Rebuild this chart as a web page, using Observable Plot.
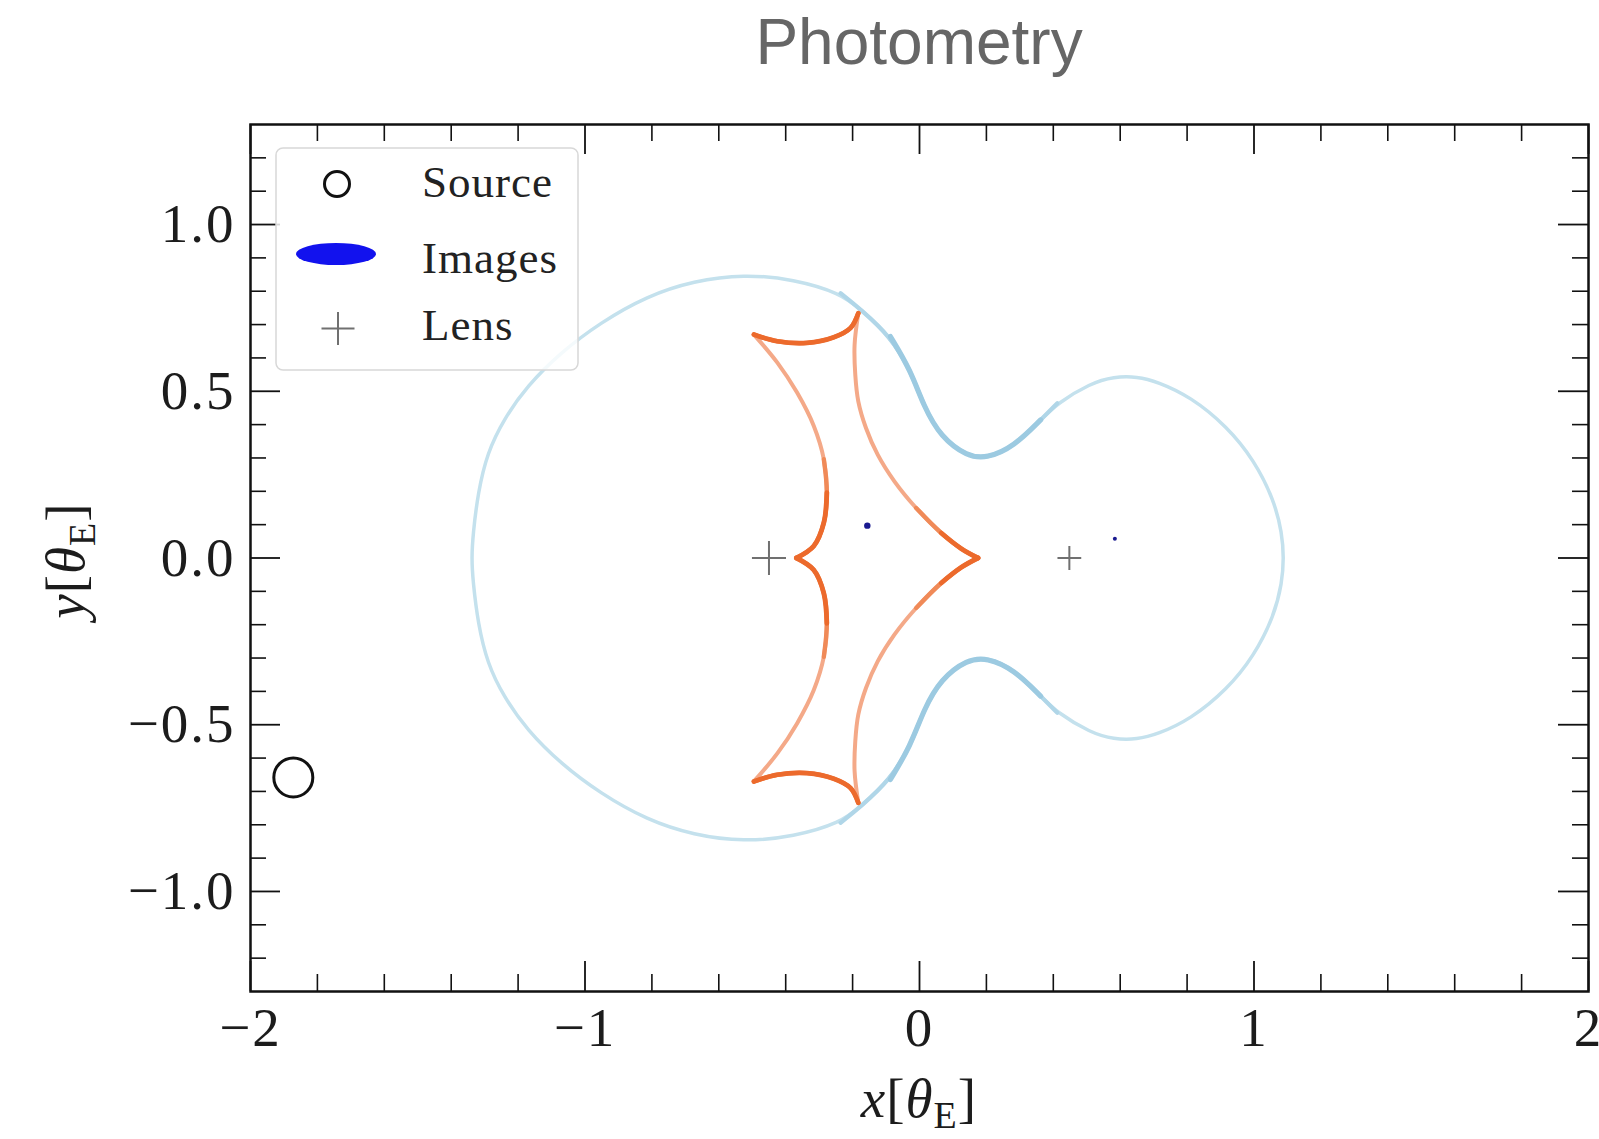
<!DOCTYPE html>
<html>
<head>
<meta charset="utf-8">
<script src="https://cdn.jsdelivr.net/npm/d3@7"></script>
<script src="https://cdn.jsdelivr.net/npm/@observablehq/plot@0.6"></script>
<style>
  body { margin: 0; background: #fff; }
  #wrap { position: relative; width: 1599px; height: 1139px; overflow: hidden; }
  #title { position: absolute; left: 250px; top: 0; width: 1338px; height: 95px; padding-top: 10px; box-sizing: border-box;
           text-align: center; font-family: "Liberation Sans", Arial, sans-serif; font-size: 64px; line-height: 64px; color: #666; }
  #chart { position: absolute; left: 0; top: 95px; }
  #legend { position: absolute; left: 275px; top: 147px; }
</style>
</head>
<body>
<div id="wrap">
  <div id="title">Photometry</div>
  <div id="chart"></div>
  <svg id="legend" width="305" height="225"></svg>
</div>
<script>
// ---------------- data ----------------
const xMajorTicks = [-2, -1, 0, 1, 2];
const xMinorTicks = [-1.8, -1.6, -1.4, -1.2, -0.8, -0.6, -0.4, -0.2, 0.2, 0.4, 0.6, 0.8, 1.2, 1.4, 1.6, 1.8];
const yMajorTicks = [-1, -0.5, 0, 0.5, 1];
const yMinorTicks = [-1.2, -1.1, -0.9, -0.8, -0.7, -0.6, -0.4, -0.3, -0.2, -0.1, 0.1, 0.2, 0.3, 0.4, 0.6, 0.7, 0.8, 0.9, 1.1, 1.2];

// critical curve (upper half left→right, lower half right→left)
const criticalUpper = [
  [-1.339, 0], [-1.335, 0.07], [-1.320, 0.196], [-1.292, 0.316], [-1.243, 0.416], [-1.173, 0.516],
  [-1.073, 0.616], [-0.954, 0.706], [-0.814, 0.786], [-0.675, 0.831], [-0.525, 0.851], [-0.376, 0.836],
  [-0.236, 0.794], [-0.176, 0.746], [-0.087, 0.664], [-0.027, 0.564], [0.013, 0.454], [0.063, 0.364],
  [0.143, 0.304], [0.202, 0.299], [0.282, 0.334], [0.362, 0.414], [0.412, 0.464], [0.511, 0.524],
  [0.581, 0.544], [0.651, 0.544], [0.711, 0.529], [0.810, 0.484], [0.920, 0.394], [1.000, 0.294],
  [1.060, 0.174], [1.084, 0.074], [1.089, 0]
];
const criticalLower = [
  [1.084, -0.074], [1.060, -0.174], [1.000, -0.294], [0.920, -0.394], [0.810, -0.484], [0.711, -0.529],
  [0.651, -0.544], [0.581, -0.544], [0.511, -0.524], [0.412, -0.464], [0.362, -0.414], [0.282, -0.334],
  [0.202, -0.299], [0.143, -0.304], [0.063, -0.364], [0.013, -0.454], [-0.027, -0.564], [-0.087, -0.664],
  [-0.176, -0.746], [-0.236, -0.794], [-0.376, -0.836], [-0.525, -0.851], [-0.675, -0.831], [-0.814, -0.786],
  [-0.954, -0.706], [-1.073, -0.616], [-1.173, -0.516], [-1.243, -0.416], [-1.292, -0.316], [-1.320, -0.196],
  [-1.335, -0.07]
];

// caustic: six fold edges between cusps
const causticTop = [[-0.495, 0.670], [-0.425, 0.650], [-0.336, 0.645], [-0.256, 0.662], [-0.206, 0.690], [-0.183, 0.734]];
const causticLeftUpper = [[-0.495, 0.670], [-0.425, 0.586], [-0.366, 0.496], [-0.316, 0.396], [-0.286, 0.296], [-0.277, 0.196], [-0.286, 0.106], [-0.316, 0.036], [-0.368, 0.0]];
const causticRightUpper = [[-0.183, 0.734], [-0.194, 0.64], [-0.192, 0.55], [-0.183, 0.47], [-0.160, 0.39], [-0.125, 0.31], [-0.075, 0.23], [-0.010, 0.15], [0.065, 0.075], [0.125, 0.028], [0.175, 0.0]];
const causticBottom = [[-0.495, -0.670], [-0.425, -0.650], [-0.336, -0.645], [-0.256, -0.662], [-0.206, -0.690], [-0.183, -0.734]];
const causticLeftLower = [[-0.495, -0.670], [-0.425, -0.586], [-0.366, -0.496], [-0.316, -0.396], [-0.286, -0.296], [-0.277, -0.196], [-0.286, -0.106], [-0.316, -0.036], [-0.368, 0.0]];
const causticRightLower = [[-0.183, -0.734], [-0.194, -0.64], [-0.192, -0.55], [-0.183, -0.47], [-0.160, -0.39], [-0.125, -0.31], [-0.075, -0.23], [-0.010, -0.15], [0.065, -0.075], [0.125, -0.028], [0.175, 0.0]];

const lensX = [-0.450, 0.448];
const lensY = [0, 0];
const sourceX = [-1.872];
const sourceY = [-0.658];
const imageX = [-0.156, 0.584];
const imageY = [0.097, 0.058];

// ---------------- tables ----------------
const criticalRows = [
  ...criticalUpper.map(([x, y]) => ({x, y, side: "upper"})),
  ...criticalLower.map(([x, y]) => ({x, y, side: "lower"}))
];
const causticSegments = {
  top: causticTop, leftUpper: causticLeftUpper, rightUpper: causticRightUpper,
  bottom: causticBottom, leftLower: causticLeftLower, rightLower: causticRightLower
};
const causticRows = Object.entries(causticSegments).flatMap(([seg, pts]) => pts.map(([x, y]) => ({x, y, seg})));
const lensRows = lensX.map((x, i) => ({x, y: lensY[i]}));
const sourceRows = sourceX.map((x, i) => ({x, y: sourceY[i]}));
const imageRows = imageX.map((x, i) => ({x, y: imageY[i]}));

// ---------------- layout ----------------
const W = 1599, H = 1044, mT = 29, mB = 148, mL = 250, mR = 11;
const FW = W - mL - mR, FH = H - mT - mB;

const isLeft = d => d.seg === "leftUpper" || d.seg === "leftLower";
const isRight = d => d.seg === "rightUpper" || d.seg === "rightLower";
const midCaustic = d => d.seg === "top" || d.seg === "bottom" || (isLeft(d) && Math.abs(d.y) < 0.32) || (isRight(d) && Math.abs(d.y) < 0.16);
const darkCaustic = d => d.seg === "top" || d.seg === "bottom" || (isLeft(d) && Math.abs(d.y) < 0.2) || (isRight(d) && Math.abs(d.y) < 0.08);

const serif = "'Liberation Serif', 'Times New Roman', serif";

const chart = Plot.plot({
  width: W, height: H,
  marginTop: mT, marginBottom: mB, marginLeft: mL, marginRight: mR,
  x: {domain: [-2, 2]},
  y: {domain: [-1.3, 1.3]},
  style: {fontFamily: serif, fontSize: "55px", color: "#1c1c1c", background: "transparent", overflow: "visible", letterSpacing: "2px"},
  marks: [
    // critical curve
    Plot.line(criticalRows, {x: "x", y: "y", curve: "basis-closed", stroke: "#c4e1ed", strokeWidth: 3.5}),
    Plot.line(criticalRows, {x: "x", y: "y", z: "side", filter: d => d.x > -0.25 && d.x < 0.47, curve: "basis", stroke: "#b0d6e8", strokeWidth: 4.2, strokeLinecap: "round"}),
    Plot.line(criticalRows, {x: "x", y: "y", z: "side", filter: d => d.x > -0.12 && d.x < 0.39, curve: "basis", stroke: "#9ccae1", strokeWidth: 5.2, strokeLinecap: "round"}),
    // caustic
    Plot.line(causticRows, {x: "x", y: "y", z: "seg", curve: "catmull-rom", stroke: "#f4a988", strokeWidth: 4}),
    Plot.line(causticRows, {x: "x", y: "y", z: "seg", filter: midCaustic, curve: "catmull-rom", stroke: "#f08a58", strokeWidth: 4.4, strokeLinecap: "round"}),
    Plot.line(causticRows, {x: "x", y: "y", z: "seg", filter: darkCaustic, curve: "catmull-rom", stroke: "#ec6a2c", strokeWidth: 4.8, strokeLinecap: "round"}),
    // lenses
    Plot.dot(lensRows, {x: "x", y: "y", filter: (d, i) => i === 0, symbol: "plus", r: 11, stroke: "#707070", strokeWidth: 2, fill: "none"}),
    Plot.dot(lensRows, {x: "x", y: "y", filter: (d, i) => i === 1, symbol: "plus", r: 7.7, stroke: "#707070", strokeWidth: 2, fill: "none"}),
    // images
    Plot.dot(imageRows, {x: "x", y: "y", filter: (d, i) => i === 0, r: 3.2, fill: "#1a1a90", stroke: "none"}),
    Plot.dot(imageRows, {x: "x", y: "y", filter: (d, i) => i === 1, r: 2, fill: "#1a1a90", stroke: "none"}),
    // source
    Plot.dot(sourceRows, {x: "x", y: "y", r: 19.5, stroke: "#111", strokeWidth: 3, fill: "none"}),
    // inward ticks on all four sides
    Plot.tickX(xMajorTicks, {x: d => d, insetTop: FH - 30, stroke: "#111", strokeWidth: 1.8}),
    Plot.tickX(xMajorTicks, {x: d => d, insetBottom: FH - 30, stroke: "#111", strokeWidth: 1.8}),
    Plot.tickX(xMinorTicks, {x: d => d, insetTop: FH - 17, stroke: "#111", strokeWidth: 1.6}),
    Plot.tickX(xMinorTicks, {x: d => d, insetBottom: FH - 17, stroke: "#111", strokeWidth: 1.6}),
    Plot.tickY(yMajorTicks, {y: d => d, insetRight: FW - 30, stroke: "#111", strokeWidth: 1.8}),
    Plot.tickY(yMajorTicks, {y: d => d, insetLeft: FW - 30, stroke: "#111", strokeWidth: 1.8}),
    Plot.tickY(yMinorTicks, {y: d => d, insetRight: FW - 16, stroke: "#111", strokeWidth: 1.6}),
    Plot.tickY(yMinorTicks, {y: d => d, insetLeft: FW - 16, stroke: "#111", strokeWidth: 1.6}),
    // tick labels
    Plot.axisX({ticks: xMajorTicks, tickSize: 0, tickPadding: 15, tickFormat: d3.format("d"), label: null}),
    Plot.axisY({ticks: yMajorTicks, tickSize: 0, tickPadding: 15, tickFormat: d3.format(".1f"), label: null}),
    Plot.frame({stroke: "#111", strokeWidth: 2.5})
  ]
});
document.getElementById("chart").appendChild(chart);

// axis titles with sub-scripts (real text)
const svg = d3.select(chart);
function axisTitle(g, name) {
  const t = g.append("text").attr("font-size", 55).attr("fill", "#1c1c1c").attr("text-anchor", "middle")
    .attr("font-family", serif).attr("letter-spacing", "1px");
  t.append("tspan").attr("font-style", "italic").text(name);
  t.append("tspan").text("[");
  t.append("tspan").attr("font-style", "italic").text("θ");
  t.append("tspan").attr("font-size", 38).attr("dy", 11).text("E");
  t.append("tspan").attr("dy", -11).text("]");
  return t;
}
axisTitle(svg.append("g").attr("transform", `translate(${mL + FW / 2},1022)`), "x");
axisTitle(svg.append("g").attr("transform", `translate(84,${mT + FH / 2 + 3}) rotate(-90)`), "y");

// legend
const lg = d3.select("#legend");
lg.append("rect").attr("x", 1).attr("y", 1).attr("width", 302).attr("height", 222).attr("rx", 7)
  .attr("fill", "rgba(255,255,255,0.82)").attr("stroke", "#d8d8d8").attr("stroke-width", 1.5);
lg.append("circle").attr("cx", 62).attr("cy", 37).attr("r", 12.5).attr("fill", "none").attr("stroke", "#111").attr("stroke-width", 3);
lg.append("ellipse").attr("cx", 61).attr("cy", 107).attr("rx", 40).attr("ry", 11).attr("fill", "#1212ee");
lg.append("path").attr("d", "M46.5,181.5h33M63,165v33").attr("stroke", "#707070").attr("stroke-width", 2);
const legendItems = [["Source", 50], ["Images", 126], ["Lens", 193]];
legendItems.forEach(([label, yb]) => {
  lg.append("text").attr("x", 147).attr("y", yb).attr("font-size", 45).attr("letter-spacing", "1px")
    .attr("font-family", serif).attr("fill", "#222").text(label);
});
</script>
</body>
</html>
